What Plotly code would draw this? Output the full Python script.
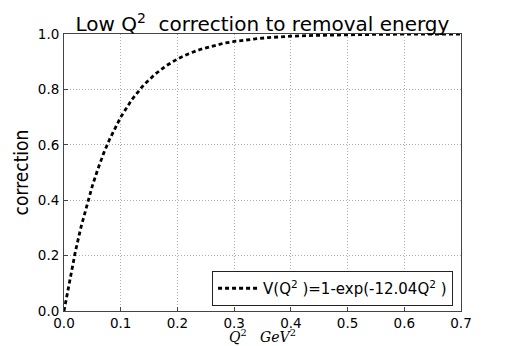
import plotly.graph_objects as go

# Q^2 values (GeV^2) and correction
q2 = [0.0, 0.01, 0.02, 0.03, 0.04, 0.05, 0.06, 0.07, 0.08, 0.09, 0.10,
      0.12, 0.14, 0.16, 0.18, 0.20, 0.22, 0.24, 0.26, 0.28, 0.30,
      0.32, 0.34, 0.36, 0.38, 0.40, 0.44, 0.48, 0.52, 0.56, 0.60, 0.64, 0.68, 0.70]
correction = [0.0, 0.114, 0.214, 0.303, 0.382, 0.452, 0.514, 0.570, 0.618, 0.662, 0.700,
              0.764, 0.815, 0.854, 0.885, 0.910, 0.929, 0.944, 0.956, 0.966, 0.973,
              0.979, 0.983, 0.987, 0.990, 0.992, 0.995, 0.997, 0.998, 0.999, 0.9993, 0.9995, 0.9997, 0.9998]

x_ticks = [0.0, 0.1, 0.2, 0.3, 0.4, 0.5, 0.6, 0.7]
y_ticks = [0.0, 0.2, 0.4, 0.6, 0.8, 1.0]
series_name = "V(Q<sup>2</sup> )=1-exp(-12.04Q<sup>2</sup> )"

fig = go.Figure()
fig.add_trace(go.Scatter(
    x=q2, y=correction, mode="lines", name=series_name,
    line=dict(color="black", width=2.8, dash="4px,3px"),
    showlegend=True,
))

axis_common = dict(
    showline=True, linecolor="#444", linewidth=1, mirror=True,
    showgrid=True, gridcolor="#999999", griddash="1px,2px", gridwidth=0.8,
    zeroline=False, ticks="inside", ticklen=4, tickcolor="#444",
    automargin=False,
    tickfont=dict(family="DejaVu Sans", size=13.5, color="black"),
)

fig.update_layout(
    width=512, height=346,
    margin=dict(l=64, r=51, t=34, b=35),
    paper_bgcolor="white", plot_bgcolor="white",
    title=dict(text="Low Q<sup>2</sup>  correction to removal energy",
               font=dict(family="DejaVu Sans", size=20, color="black"),
               x=0.5125, xanchor="center", y=0.93, yref="container", yanchor="middle"),
    xaxis=dict(range=[0, 0.7], tickvals=x_ticks, tickformat=".1f",
               ticklabelstandoff=0, **axis_common),
    yaxis=dict(range=[0, 1.0], tickvals=y_ticks, tickformat=".1f",
               ticklabelstandoff=1,
               title=dict(text="correction",
                          font=dict(family="DejaVu Sans Condensed, Liberation Sans Narrow, DejaVu Sans", size=19, color="black"),
                          standoff=4),
               **axis_common),
    legend=dict(x=0.98, xanchor="right", y=0.018, yanchor="bottom",
                bordercolor="#222", borderwidth=1, bgcolor="white",
                font=dict(family="DejaVu Sans", size=15, color="black"),
                itemwidth=40, tracegroupgap=0),
    annotations=[dict(
        text="<i>Q</i><sup>2</sup>   <i>GeV</i><sup>2</sup>",
        font=dict(family="DejaVu Serif", size=14, color="black"),
        x=0.5, xref="paper", xanchor="center",
        y=-0.09, yref="paper", yanchor="middle", showarrow=False,
    )],
)

fig.write_html("out.html",
               config={"displayModeBar": False, "staticPlot": True},
               post_script="document.body.style.margin='0';document.body.style.padding='0';")
